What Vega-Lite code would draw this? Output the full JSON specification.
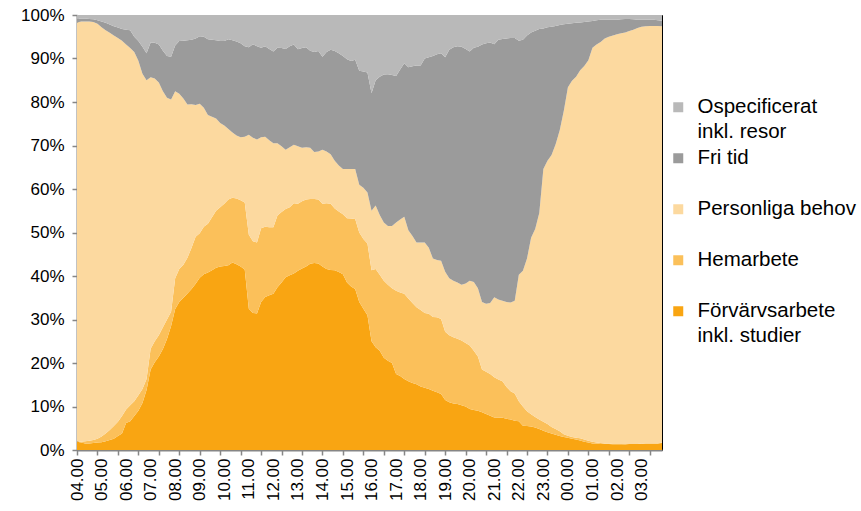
{
  "$schema": "https://vega.github.io/schema/vega-lite/v6.json",
  "width": 585,
  "height": 435,
  "autosize": {"type": "none"},
  "padding": {"left": 77, "top": 15, "right": 199, "bottom": 61},
  "background": "white",
  "config": {
    "font": "Liberation Sans",
    "view": {"stroke": "#000000", "strokeWidth": 1}
  },
  "datasets": {
    "kategorier": [
      {"kod": "forv", "namn": "Förvärvsarbete inkl. studier", "ord": 1},
      {"kod": "hem", "namn": "Hemarbete", "ord": 2},
      {"kod": "pers", "namn": "Personliga behov", "ord": 3},
      {"kod": "fri", "namn": "Fri tid", "ord": 4},
      {"kod": "osp", "namn": "Ospecificerat inkl. resor", "ord": 5}
    ]
  },
  "data": {"values": [
    {"min":0,"forv":1.9,"hem":0.1,"pers":96.3,"fri":0.8,"osp":0.9},
    {"min":10,"forv":1.7,"hem":0.2,"pers":96.6,"fri":0.7,"osp":0.8},
    {"min":20,"forv":1.5,"hem":0.5,"pers":96.5,"fri":0.7,"osp":0.8},
    {"min":30,"forv":1.5,"hem":0.6,"pers":96.4,"fri":0.6,"osp":0.9},
    {"min":40,"forv":1.6,"hem":0.7,"pers":96.1,"fri":0.6,"osp":1.0},
    {"min":50,"forv":1.7,"hem":0.9,"pers":95.4,"fri":0.8,"osp":1.2},
    {"min":60,"forv":1.8,"hem":1.3,"pers":94.1,"fri":1.3,"osp":1.5},
    {"min":70,"forv":2.0,"hem":1.8,"pers":92.7,"fri":1.7,"osp":1.8},
    {"min":80,"forv":2.3,"hem":2.3,"pers":91.3,"fri":1.9,"osp":2.2},
    {"min":90,"forv":2.6,"hem":2.9,"pers":89.8,"fri":2.1,"osp":2.6},
    {"min":100,"forv":3.2,"hem":3.3,"pers":88.2,"fri":2.4,"osp":2.9},
    {"min":110,"forv":3.8,"hem":4.0,"pers":86.3,"fri":2.7,"osp":3.2},
    {"min":120,"forv":6.2,"hem":3.1,"pers":83.9,"fri":3.4,"osp":3.4},
    {"min":130,"forv":6.6,"hem":3.7,"pers":82.1,"fri":4.1,"osp":3.5},
    {"min":140,"forv":7.8,"hem":3.4,"pers":80.3,"fri":3.5,"osp":5.0},
    {"min":150,"forv":9.0,"hem":3.6,"pers":76.9,"fri":4.5,"osp":6.0},
    {"min":160,"forv":10.8,"hem":3.2,"pers":72.5,"fri":6.2,"osp":7.3},
    {"min":170,"forv":13.8,"hem":2.5,"pers":68.7,"fri":6.2,"osp":8.8},
    {"min":180,"forv":18.5,"hem":4.8,"pers":62.4,"fri":8.0,"osp":6.3},
    {"min":190,"forv":20.2,"hem":4.8,"pers":60.4,"fri":8.2,"osp":6.4},
    {"min":200,"forv":21.5,"hem":4.9,"pers":58.1,"fri":8.7,"osp":6.8},
    {"min":210,"forv":23.2,"hem":5.0,"pers":54.3,"fri":9.3,"osp":8.2},
    {"min":220,"forv":25.5,"hem":4.5,"pers":51.0,"fri":9.6,"osp":9.4},
    {"min":230,"forv":28.5,"hem":3.3,"pers":48.8,"fri":9.8,"osp":9.6},
    {"min":240,"forv":32.4,"hem":7.1,"pers":43.0,"fri":10.5,"osp":7.0},
    {"min":250,"forv":34.0,"hem":7.6,"pers":40.3,"fri":12.1,"osp":6.0},
    {"min":260,"forv":35.0,"hem":7.6,"pers":38.2,"fri":13.3,"osp":5.9},
    {"min":270,"forv":36.0,"hem":8.2,"pers":35.2,"fri":14.8,"osp":5.8},
    {"min":280,"forv":37.0,"hem":9.5,"pers":33.0,"fri":14.8,"osp":5.7},
    {"min":290,"forv":38.2,"hem":10.8,"pers":30.3,"fri":15.3,"osp":5.4},
    {"min":300,"forv":39.6,"hem":10.2,"pers":29.8,"fri":15.5,"osp":4.9},
    {"min":310,"forv":40.4,"hem":10.9,"pers":27.4,"fri":16.3,"osp":5.0},
    {"min":320,"forv":40.8,"hem":11.2,"pers":25.0,"fri":17.4,"osp":5.6},
    {"min":330,"forv":41.3,"hem":12.2,"pers":23.1,"fri":17.7,"osp":5.7},
    {"min":340,"forv":41.9,"hem":13.1,"pers":21.2,"fri":18.0,"osp":5.8},
    {"min":350,"forv":42.2,"hem":13.6,"pers":19.4,"fri":18.8,"osp":6.0},
    {"min":360,"forv":42.3,"hem":14.3,"pers":18.0,"fri":19.4,"osp":6.0},
    {"min":370,"forv":42.5,"hem":15.1,"pers":16.2,"fri":20.6,"osp":5.6},
    {"min":380,"forv":43.1,"hem":14.9,"pers":15.0,"fri":21.2,"osp":5.8},
    {"min":390,"forv":42.7,"hem":15.1,"pers":14.5,"fri":21.6,"osp":6.1},
    {"min":400,"forv":42.2,"hem":15.2,"pers":14.5,"fri":21.6,"osp":6.5},
    {"min":410,"forv":41.5,"hem":15.4,"pers":15.1,"fri":20.8,"osp":7.2},
    {"min":420,"forv":32.5,"hem":17.0,"pers":23.0,"fri":20.1,"osp":7.4},
    {"min":430,"forv":31.5,"hem":16.5,"pers":23.8,"fri":21.5,"osp":6.7},
    {"min":440,"forv":31.4,"hem":16.3,"pers":23.7,"fri":21.4,"osp":7.2},
    {"min":450,"forv":34.0,"hem":17.0,"pers":20.9,"fri":20.6,"osp":7.5},
    {"min":460,"forv":35.2,"hem":16.1,"pers":20.7,"fri":20.8,"osp":7.2},
    {"min":470,"forv":35.6,"hem":15.6,"pers":20.0,"fri":21.0,"osp":7.8},
    {"min":480,"forv":35.9,"hem":15.3,"pers":19.3,"fri":21.1,"osp":8.4},
    {"min":490,"forv":37.4,"hem":16.5,"pers":16.6,"fri":22.0,"osp":7.5},
    {"min":500,"forv":38.5,"hem":16.2,"pers":15.1,"fri":22.6,"osp":7.6},
    {"min":510,"forv":39.7,"hem":15.7,"pers":13.6,"fri":23.2,"osp":7.8},
    {"min":520,"forv":40.2,"hem":15.6,"pers":13.8,"fri":23.2,"osp":7.2},
    {"min":530,"forv":40.6,"hem":16.1,"pers":13.5,"fri":23.0,"osp":6.8},
    {"min":540,"forv":41.2,"hem":15.4,"pers":13.2,"fri":22.3,"osp":7.9},
    {"min":550,"forv":41.7,"hem":15.5,"pers":12.3,"fri":22.9,"osp":7.6},
    {"min":560,"forv":42.2,"hem":15.4,"pers":12.0,"fri":23.0,"osp":7.4},
    {"min":570,"forv":42.8,"hem":14.9,"pers":11.8,"fri":22.3,"osp":8.2},
    {"min":580,"forv":43.0,"hem":14.7,"pers":10.8,"fri":23.0,"osp":8.5},
    {"min":590,"forv":42.9,"hem":14.7,"pers":11.0,"fri":23.1,"osp":8.3},
    {"min":600,"forv":42.2,"hem":14.4,"pers":12.4,"fri":21.4,"osp":9.6},
    {"min":610,"forv":41.6,"hem":15.1,"pers":11.9,"fri":22.9,"osp":8.5},
    {"min":620,"forv":41.4,"hem":15.2,"pers":11.4,"fri":24.0,"osp":8.0},
    {"min":630,"forv":41.3,"hem":14.2,"pers":11.0,"fri":25.2,"osp":8.3},
    {"min":640,"forv":40.9,"hem":13.9,"pers":10.6,"fri":25.8,"osp":8.8},
    {"min":650,"forv":40.4,"hem":13.8,"pers":10.4,"fri":26.0,"osp":9.4},
    {"min":660,"forv":38.5,"hem":14.8,"pers":11.3,"fri":25.2,"osp":10.2},
    {"min":670,"forv":37.6,"hem":15.6,"pers":11.4,"fri":24.8,"osp":10.6},
    {"min":680,"forv":37.0,"hem":16.1,"pers":11.5,"fri":25.1,"osp":10.3},
    {"min":690,"forv":34.0,"hem":16.0,"pers":11.0,"fri":26.2,"osp":12.8},
    {"min":700,"forv":32.5,"hem":16.0,"pers":11.8,"fri":26.7,"osp":13.0},
    {"min":710,"forv":31.0,"hem":16.5,"pers":11.7,"fri":27.6,"osp":13.2},
    {"min":720,"forv":25.0,"hem":16.3,"pers":13.7,"fri":27.0,"osp":18.0},
    {"min":730,"forv":23.6,"hem":18.0,"pers":14.6,"fri":28.8,"osp":15.0},
    {"min":740,"forv":22.8,"hem":17.5,"pers":13.7,"fri":31.8,"osp":14.2},
    {"min":750,"forv":21.2,"hem":17.7,"pers":13.4,"fri":34.0,"osp":13.7},
    {"min":760,"forv":20.5,"hem":17.5,"pers":13.5,"fri":34.9,"osp":13.6},
    {"min":770,"forv":20.0,"hem":17.2,"pers":14.3,"fri":34.7,"osp":13.8},
    {"min":780,"forv":17.5,"hem":19.1,"pers":15.7,"fri":33.7,"osp":14.0},
    {"min":790,"forv":17.0,"hem":19.2,"pers":16.8,"fri":34.5,"osp":12.5},
    {"min":800,"forv":16.3,"hem":19.6,"pers":17.7,"fri":35.3,"osp":11.1},
    {"min":810,"forv":15.8,"hem":19.0,"pers":15.7,"fri":37.5,"osp":12.0},
    {"min":820,"forv":15.4,"hem":18.4,"pers":15.4,"fri":39.0,"osp":11.8},
    {"min":830,"forv":15.1,"hem":17.7,"pers":14.9,"fri":40.7,"osp":11.6},
    {"min":840,"forv":14.6,"hem":17.6,"pers":15.5,"fri":40.7,"osp":11.6},
    {"min":850,"forv":14.3,"hem":17.2,"pers":16.2,"fri":42.3,"osp":10.0},
    {"min":860,"forv":14.0,"hem":17.3,"pers":15.2,"fri":43.8,"osp":9.7},
    {"min":870,"forv":13.6,"hem":17.0,"pers":13.4,"fri":46.6,"osp":9.4},
    {"min":880,"forv":13.3,"hem":17.2,"pers":13.2,"fri":47.3,"osp":9.0},
    {"min":890,"forv":12.9,"hem":17.2,"pers":13.4,"fri":47.7,"osp":8.8},
    {"min":900,"forv":11.5,"hem":15.7,"pers":13.8,"fri":49.3,"osp":9.7},
    {"min":910,"forv":11.0,"hem":15.4,"pers":13.1,"fri":52.5,"osp":8.0},
    {"min":920,"forv":10.7,"hem":15.2,"pers":13.0,"fri":53.7,"osp":7.4},
    {"min":930,"forv":10.6,"hem":15.0,"pers":12.9,"fri":54.3,"osp":7.2},
    {"min":940,"forv":10.3,"hem":14.9,"pers":12.8,"fri":54.7,"osp":7.3},
    {"min":950,"forv":10.0,"hem":14.6,"pers":13.7,"fri":53.9,"osp":7.8},
    {"min":960,"forv":9.4,"hem":14.6,"pers":14.9,"fri":52.7,"osp":8.4},
    {"min":970,"forv":9.2,"hem":13.6,"pers":15.8,"fri":53.9,"osp":7.5},
    {"min":980,"forv":9.0,"hem":12.5,"pers":15.7,"fri":55.5,"osp":7.3},
    {"min":990,"forv":8.7,"hem":9.8,"pers":15.5,"fri":59.2,"osp":6.8},
    {"min":1000,"forv":8.3,"hem":9.7,"pers":15.6,"fri":59.9,"osp":6.5},
    {"min":1010,"forv":7.9,"hem":9.6,"pers":16.3,"fri":59.9,"osp":6.3},
    {"min":1020,"forv":7.5,"hem":9.2,"pers":18.4,"fri":58.2,"osp":6.7},
    {"min":1030,"forv":7.5,"hem":8.7,"pers":18.4,"fri":59.7,"osp":5.7},
    {"min":1040,"forv":7.4,"hem":8.4,"pers":18.5,"fri":60.2,"osp":5.5},
    {"min":1050,"forv":7.2,"hem":7.3,"pers":19.5,"fri":60.6,"osp":5.4},
    {"min":1060,"forv":7.0,"hem":6.5,"pers":20.4,"fri":60.8,"osp":5.3},
    {"min":1070,"forv":6.7,"hem":6.3,"pers":21.3,"fri":60.4,"osp":5.3},
    {"min":1080,"forv":6.6,"hem":4.6,"pers":29.1,"fri":53.8,"osp":5.9},
    {"min":1090,"forv":5.6,"hem":4.4,"pers":31.2,"fri":53.1,"osp":5.7},
    {"min":1100,"forv":5.5,"hem":3.4,"pers":35.1,"fri":51.3,"osp":4.7},
    {"min":1110,"forv":5.4,"hem":2.8,"pers":40.6,"fri":47.2,"osp":4.0},
    {"min":1120,"forv":5.2,"hem":2.4,"pers":43.2,"fri":45.6,"osp":3.6},
    {"min":1130,"forv":4.8,"hem":2.2,"pers":47.5,"fri":42.3,"osp":3.2},
    {"min":1140,"forv":4.4,"hem":2.1,"pers":58.1,"fri":32.3,"osp":3.1},
    {"min":1150,"forv":4.1,"hem":1.9,"pers":60.5,"fri":30.7,"osp":2.8},
    {"min":1160,"forv":3.8,"hem":1.5,"pers":62.5,"fri":29.5,"osp":2.7},
    {"min":1170,"forv":3.5,"hem":1.3,"pers":65.5,"fri":27.2,"osp":2.5},
    {"min":1180,"forv":3.2,"hem":1.1,"pers":69.2,"fri":24.2,"osp":2.3},
    {"min":1190,"forv":3.0,"hem":0.6,"pers":74.4,"fri":19.9,"osp":2.1},
    {"min":1200,"forv":2.8,"hem":0.5,"pers":80.1,"fri":14.6,"osp":2.0},
    {"min":1210,"forv":2.6,"hem":0.4,"pers":81.9,"fri":13.2,"osp":1.9},
    {"min":1220,"forv":2.4,"hem":0.4,"pers":83.0,"fri":12.4,"osp":1.8},
    {"min":1230,"forv":2.2,"hem":0.5,"pers":84.6,"fri":11.0,"osp":1.7},
    {"min":1240,"forv":1.9,"hem":0.5,"pers":85.9,"fri":10.1,"osp":1.6},
    {"min":1250,"forv":1.7,"hem":0.4,"pers":87.5,"fri":8.9,"osp":1.5},
    {"min":1260,"forv":1.5,"hem":0.4,"pers":90.6,"fri":6.1,"osp":1.4},
    {"min":1270,"forv":1.5,"hem":0.2,"pers":91.5,"fri":5.6,"osp":1.2},
    {"min":1280,"forv":1.4,"hem":0.2,"pers":92.2,"fri":5.1,"osp":1.1},
    {"min":1290,"forv":1.4,"hem":0.1,"pers":93.1,"fri":4.3,"osp":1.1},
    {"min":1300,"forv":1.4,"hem":0.1,"pers":93.5,"fri":3.9,"osp":1.1},
    {"min":1310,"forv":1.3,"hem":0.1,"pers":93.9,"fri":3.6,"osp":1.1},
    {"min":1320,"forv":1.3,"hem":0.1,"pers":94.2,"fri":3.3,"osp":1.1},
    {"min":1330,"forv":1.3,"hem":0.1,"pers":94.4,"fri":3.2,"osp":1.0},
    {"min":1340,"forv":1.3,"hem":0.0,"pers":94.7,"fri":3.1,"osp":0.9},
    {"min":1350,"forv":1.4,"hem":0.0,"pers":94.9,"fri":2.8,"osp":0.9},
    {"min":1360,"forv":1.4,"hem":0.0,"pers":95.2,"fri":2.4,"osp":1.0},
    {"min":1370,"forv":1.4,"hem":0.0,"pers":95.6,"fri":1.9,"osp":1.1},
    {"min":1380,"forv":1.4,"hem":0.1,"pers":95.8,"fri":1.6,"osp":1.1},
    {"min":1390,"forv":1.5,"hem":0.0,"pers":95.9,"fri":1.5,"osp":1.1},
    {"min":1400,"forv":1.5,"hem":0.0,"pers":96.0,"fri":1.4,"osp":1.1},
    {"min":1410,"forv":1.5,"hem":0.0,"pers":96.0,"fri":1.4,"osp":1.1},
    {"min":1420,"forv":1.5,"hem":0.0,"pers":96.0,"fri":1.3,"osp":1.2},
    {"min":1430,"forv":1.6,"hem":0.1,"pers":95.7,"fri":1.3,"osp":1.3}
  ]},
  "transform": [
    {"fold": ["forv", "hem", "pers", "fri", "osp"], "as": ["kod", "andel"]},
    {"lookup": "kod", "from": {"data": {"name": "kategorier"}, "key": "kod", "fields": ["namn", "ord"]}}
  ],
  "mark": {"type": "area", "interpolate": "linear"},
  "encoding": {
    "x": {
      "field": "min",
      "type": "quantitative",
      "scale": {"domain": [0, 1430], "nice": false, "zero": false},
      "axis": {
        "title": null,
        "grid": false,
        "values": [0,50,60,100,120,150,180,200,240,250,300,350,360,400,420,450,480,500,540,550,600,650,660,700,720,750,780,800,840,850,900,950,960,1000,1020,1050,1080,1100,1140,1150,1200,1250,1260,1300,1320,1350,1380,1400],
        "labelExpr": "datum.value % 60 == 0 ? (((4 + datum.value / 60) % 24) < 10 ? '0' : '') + ((4 + datum.value / 60) % 24) + '.00' : ''",
        "labelAngle": -90,
        "labelFontSize": 17,
        "labelColor": "#000000",
        "labelPadding": 3,
        "labelOverlap": false,
        "labelFlush": false,
        "labelBound": false,
        "domainColor": "#868686",
        "domainWidth": 2,
        "tickColor": "#868686",
        "tickWidth": 1.5,
        "tickSize": 5,
        "tickOpacity": {"condition": {"test": "datum.value % 50 == 0", "value": 1}, "value": 0}
      }
    },
    "y": {
      "field": "andel",
      "type": "quantitative",
      "stack": "normalize",
      "scale": {"domain": [0, 1], "nice": false},
      "axis": {
        "title": null,
        "grid": false,
        "values": [0, 0.1, 0.2, 0.3, 0.4, 0.5, 0.6, 0.7, 0.8, 0.9, 1],
        "format": ".0%",
        "labelFontSize": 17,
        "labelColor": "#000000",
        "labelPadding": 8,
        "domainColor": "#868686",
        "domainWidth": 2,
        "tickColor": "#868686",
        "tickWidth": 1.5,
        "tickSize": 5
      }
    },
    "color": {
      "field": "namn",
      "type": "nominal",
      "scale": {
        "domain": ["Ospecificerat inkl. resor", "Fri tid", "Personliga behov", "Hemarbete", "Förvärvsarbete inkl. studier"],
        "range": ["#B9B9B9", "#9B9B9B", "#FCD99F", "#FBC05A", "#F9A512"]
      },
      "legend": {
        "title": null,
        "orient": "none",
        "legendX": 591,
        "legendY": 82,
        "symbolType": "square",
        "symbolSize": 100,
        "symbolStrokeWidth": 0,
        "labelFontSize": 20.5,
        "labelColor": "#000000",
        "labelLimit": 250,
        "labelOffset": 9,
        "gridAlign": "all",
        "rowPadding": 5,
        "labelExpr": "datum.label == 'Ospecificerat inkl. resor' ? ['Ospecificerat', 'inkl. resor'] : datum.label == 'Förvärvsarbete inkl. studier' ? ['Förvärvsarbete', 'inkl. studier'] : datum.label",
        "encode": {"labels": {"update": {"lineHeight": {"value": 25}}}}
      }
    },
    "order": {"field": "ord", "type": "quantitative"}
  }
}
